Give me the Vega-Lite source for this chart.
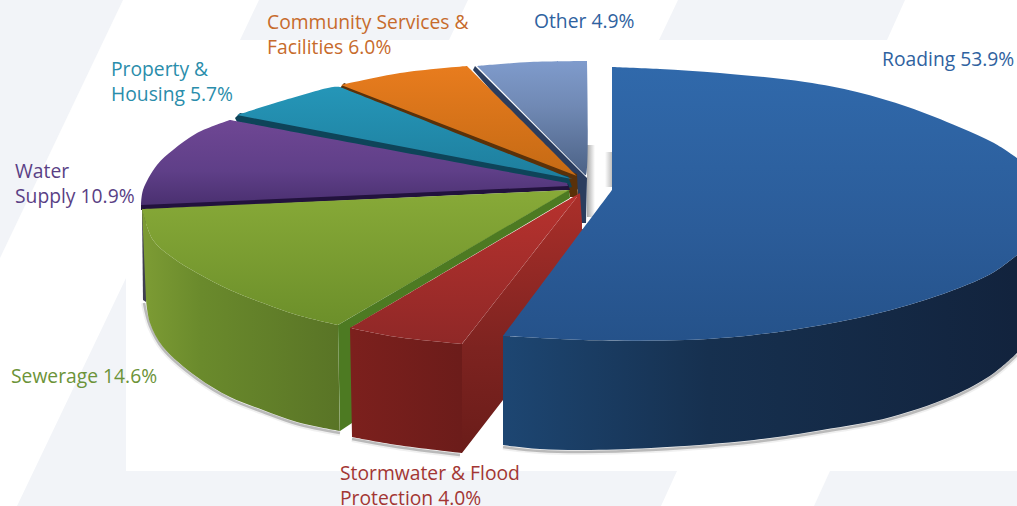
{"$schema":"https://vega.github.io/schema/vega-lite/v6.json","autosize":{"type":"none"},"padding":0,"width":1017,"height":506,"background":"#ffffff","view":{"stroke":null},
"datasets":{
"backdrop":[{"s":"a","i":0,"x":-580,"y":185},{"s":"a","i":1,"x":-457,"y":185},{"s":"a","i":2,"x":-580,"y":-73},
{"s":"b","i":0,"x":-454,"y":-93},{"s":"b","i":1,"x":-454,"y":-286},{"s":"b","i":2,"x":97,"y":-286},{"s":"b","i":3,"x":81,"y":-321},{"s":"b","i":4,"x":-563,"y":-321},
{"s":"c","i":0,"x":250,"y":-286},{"s":"c","i":1,"x":437,"y":-286},{"s":"c","i":2,"x":437,"y":-321},{"s":"c","i":3,"x":234,"y":-321},
{"s":"d","i":0,"x":-340,"y":145},{"s":"d","i":1,"x":-321,"y":185},{"s":"d","i":2,"x":-112,"y":185},{"s":"d","i":3,"x":-131,"y":145},
{"s":"e","i":0,"x":79,"y":145},{"s":"e","i":1,"x":98,"y":185},{"s":"e","i":2,"x":325,"y":185},{"s":"e","i":3,"x":307,"y":145}],
"groundShadow":[{"s":"road","i":0,"x":-77,"y":-262},{"s":"road","i":1,"x":-40,"y":-266},{"s":"road","i":2,"x":3,"y":-267},{"s":"road","i":3,"x":71,"y":-265},{"s":"road","i":4,"x":174,"y":-257},{"s":"road","i":5,"x":242,"y":-247},{"s":"road","i":6,"x":311,"y":-234},{"s":"road","i":7,"x":379,"y":-210},{"s":"road","i":8,"x":414,"y":-190},{"s":"road","i":9,"x":437,"y":-170},
{"s":"storm","i":0,"x":-228,"y":-254},{"s":"storm","i":1,"x":-183,"y":-262},{"s":"storm","i":2,"x":-120,"y":-270},
{"s":"sew","i":0,"x":-436,"y":-118},{"s":"sew","i":1,"x":-430,"y":-141},{"s":"sew","i":2,"x":-417,"y":-164},{"s":"sew","i":3,"x":-383,"y":-194},{"s":"sew","i":4,"x":-350,"y":-214},{"s":"sew","i":5,"x":-317,"y":-227},{"s":"sew","i":6,"x":-283,"y":-239},{"s":"sew","i":7,"x":-240,"y":-248}],
"hubShadowLeft":[{"i":0,"x":7,"y":40},{"i":1,"x":15,"y":40},{"i":2,"x":15,"y":-32},{"i":3,"x":7,"y":-32}],
"hubShadowRight":[{"i":0,"x":25,"y":33},{"i":1,"x":33,"y":33},{"i":2,"x":33,"y":-2},{"i":3,"x":25,"y":-2}],
"otherEdge":[{"i":0,"x":-105,"y":119},{"i":1,"x":7,"y":7},{"i":2,"x":6,"y":-38},{"i":3,"x":-2,"y":-38},{"i":4,"x":-2,"y":-5},{"i":5,"x":-107,"y":115}],
"otherTop":[{"i":0,"x":-103,"y":119},{"i":0.5,"x":-103,"y":119},{"i":1,"x":-50,"y":123},{"i":2,"x":7,"y":124},{"i":2.5,"x":7,"y":124},{"i":3,"x":6,"y":10},{"i":4,"x":5,"y":10}],
"communityEdge":[{"i":0,"x":-236,"y":102},{"i":1,"x":-3,"y":11},{"i":2,"x":-2,"y":-12},{"i":3,"x":-10,"y":-12},{"i":4,"x":-12,"y":-2},{"i":5,"x":-240,"y":97}],
"communityTop":[{"i":0,"x":-239,"y":100},{"i":0.5,"x":-239,"y":100},{"i":1,"x":-180,"y":112},{"i":2,"x":-113,"y":119},{"i":2.5,"x":-113,"y":119},{"i":3,"x":-107,"y":113},{"i":3.5,"x":-107,"y":113},{"i":4,"x":-3,"y":9}],
"propertyEdge":[{"i":0,"x":-340,"y":72},{"i":1,"x":-12,"y":9},{"i":2,"x":-8,"y":-2},{"i":3,"x":-12,"y":-3},{"i":4,"x":-343,"y":63},{"i":5,"x":-345,"y":67}],
"propertyTop":[{"i":0,"x":-343,"y":70},{"i":0.5,"x":-343,"y":70},{"i":1,"x":-295,"y":85},{"i":2,"x":-247,"y":98},{"i":3,"x":-240,"y":98},{"i":3.5,"x":-240,"y":98},{"i":4,"x":-8,"y":6}],
"waterBack":[{"i":0,"x":-438,"y":-25},{"i":1,"x":-434,"y":-25},{"i":2,"x":-434,"y":-117},{"i":3,"x":-437,"y":-115}],
"waterEdge":[{"i":0,"x":-439,"y":-18},{"i":1,"x":-12,"y":1},{"i":2,"x":-10,"y":-5},{"i":3,"x":-439,"y":-25}],
"waterTop":[{"i":0,"x":-439,"y":-20},{"i":0.5,"x":-439,"y":-20},{"i":1,"x":-437,"y":-5},{"i":2,"x":-423,"y":20},{"i":3,"x":-407,"y":35},{"i":4,"x":-383,"y":52},{"i":5,"x":-350,"y":65},{"i":5.5,"x":-350,"y":65},{"i":6,"x":-13,"y":2},{"i":6.5,"x":-13,"y":2},{"i":7,"x":-12,"y":-1}],
"sewerageSide":[{"i":0,"x":-438,"y":-23},{"i":0.5,"x":-438,"y":-23},{"i":1,"x":-427,"y":-55},{"i":2,"x":-407,"y":-73},{"i":3,"x":-383,"y":-88},{"i":4,"x":-350,"y":-105},{"i":5,"x":-317,"y":-118},{"i":6,"x":-283,"y":-130},{"i":7,"x":-242,"y":-140},{"i":7.5,"x":-242,"y":-140},{"i":8,"x":-240,"y":-246},{"i":8.5,"x":-240,"y":-246},{"i":9,"x":-283,"y":-237},{"i":10,"x":-317,"y":-225},{"i":11,"x":-350,"y":-212},{"i":12,"x":-383,"y":-192},{"i":13,"x":-417,"y":-162},{"i":14,"x":-430,"y":-138},{"i":15,"x":-434,"y":-115},{"i":15.5,"x":-434,"y":-115}],
"sewerageTop":[{"i":0,"x":-438,"y":-24},{"i":0.5,"x":-438,"y":-24},{"i":1,"x":-10,"y":-5},{"i":1.5,"x":-10,"y":-5},{"i":2,"x":-242,"y":-140},{"i":2.5,"x":-242,"y":-140},{"i":3,"x":-283,"y":-130},{"i":4,"x":-317,"y":-118},{"i":5,"x":-350,"y":-105},{"i":6,"x":-383,"y":-88},{"i":7,"x":-407,"y":-73},{"i":8,"x":-427,"y":-55},{"i":9,"x":-438,"y":-24}],
"sewerageCut":[{"i":0,"x":-242,"y":-140},{"i":1,"x":-11,"y":-5},{"i":2,"x":-10,"y":-13},{"i":3,"x":-228,"y":-142},{"i":4,"x":-228,"y":-238},{"i":5,"x":-240,"y":-246}],
"stormCut":[{"i":0,"x":-118,"y":-159},{"i":1,"x":0,"y":-8},{"i":2,"x":2,"y":-38},{"i":3,"x":2,"y":-44},{"i":4,"x":8,"y":-46},{"i":5,"x":-70,"y":-150},{"i":6,"x":-70,"y":-205},{"i":7,"x":-77,"y":-215},{"i":8,"x":-118,"y":-268}],
"stormSide":[{"i":0,"x":-230,"y":-143},{"i":1,"x":-183,"y":-152},{"i":2,"x":-118,"y":-159},{"i":2.5,"x":-118,"y":-159},{"i":3,"x":-118,"y":-268},{"i":3.5,"x":-118,"y":-268},{"i":4,"x":-183,"y":-260},{"i":5,"x":-228,"y":-252}],
"stormTop":[{"i":0,"x":-230,"y":-143},{"i":0.5,"x":-230,"y":-143},{"i":1,"x":0,"y":-8},{"i":1.5,"x":0,"y":-8},{"i":2,"x":-118,"y":-159},{"i":2.5,"x":-118,"y":-159},{"i":3,"x":-183,"y":-152},{"i":4,"x":-230,"y":-143}],
"roadingSide":[{"i":0,"x":-77,"y":-151},{"i":1,"x":-40,"y":-153},{"i":2,"x":3,"y":-155},{"i":3,"x":105,"y":-155},{"i":4,"x":174,"y":-150},{"i":5,"x":242,"y":-140},{"i":6,"x":311,"y":-125},{"i":7,"x":379,"y":-103},{"i":8,"x":414,"y":-87},{"i":9,"x":437,"y":-70},{"i":9.5,"x":437,"y":-70},{"i":10,"x":437,"y":-168},{"i":10.5,"x":437,"y":-168},{"i":11,"x":414,"y":-188},{"i":12,"x":379,"y":-208},{"i":13,"x":311,"y":-232},{"i":14,"x":242,"y":-245},{"i":15,"x":174,"y":-255},{"i":16,"x":71,"y":-263},{"i":17,"x":3,"y":-265},{"i":18,"x":-40,"y":-264},{"i":19,"x":-77,"y":-260}],
"roadingRim":[{"i":0,"x":32,"y":40},{"i":1,"x":34,"y":40},{"i":2,"x":35,"y":-5},{"i":3,"x":32,"y":-5}],
"roadingTop":[{"i":0,"x":32,"y":118},{"i":0.5,"x":32,"y":118},{"i":1,"x":80,"y":116},{"i":2,"x":140,"y":112},{"i":3,"x":225,"y":103},{"i":4,"x":277,"y":93},{"i":5,"x":328,"y":78},{"i":6,"x":379,"y":58},{"i":7,"x":414,"y":42},{"i":8,"x":437,"y":27},{"i":8.5,"x":437,"y":27},{"i":9,"x":437,"y":-70},{"i":9.5,"x":437,"y":-70},{"i":10,"x":414,"y":-87},{"i":11,"x":379,"y":-103},{"i":12,"x":311,"y":-125},{"i":13,"x":242,"y":-140},{"i":14,"x":174,"y":-150},{"i":15,"x":105,"y":-155},{"i":16,"x":3,"y":-155},{"i":17,"x":-40,"y":-153},{"i":18,"x":-77,"y":-151},{"i":18.5,"x":-77,"y":-151},{"i":19,"x":32,"y":-5},{"i":19.5,"x":32,"y":-5},{"i":20,"x":32,"y":118}],
"labels":[{"slice":"Roading","share":53.9,"text":"Roading 53.9%","x":302,"y":119},{"slice":"Other","share":4.9,"text":"Other 4.9%","x":-46,"y":157},{"slice":"Community","share":6.0,"text":"Community Services &\nFacilities 6.0%","x":-313,"y":156},{"slice":"Property","share":5.7,"text":"Property &\nHousing 5.7%","x":-469,"y":109},{"slice":"Water","share":10.9,"text":"Water\nSupply 10.9%","x":-565,"y":7},{"slice":"Sewerage","share":14.6,"text":"Sewerage 14.6%","x":-569,"y":-198},{"slice":"Stormwater","share":4.0,"text":"Stormwater & Flood\nProtection 4.0%","x":-240,"y":-295}]
},
"encoding":{"x":{"field":"x","type":"quantitative","axis":null,"scale":{"domain":[-580,437],"nice":false,"zero":false}},"y":{"field":"y","type":"quantitative","axis":null,"scale":{"domain":[-321,185],"nice":false,"zero":false}},"order":{"field":"i","type":"quantitative"}},
"layer":[
{"data":{"name":"backdrop"},"mark":{"type":"line","filled":true,"color":"#f2f4f8","strokeWidth":0},"encoding":{"detail":{"field":"s"}}},
{"data":{"name":"groundShadow"},"mark":{"type":"line","interpolate":"catmull-rom","stroke":"#6a6a6a","strokeWidth":6,"opacity":0.1},"encoding":{"detail":{"field":"s"}}},
{"data":{"name":"groundShadow"},"mark":{"type":"line","interpolate":"catmull-rom","stroke":"#555555","strokeWidth":2.5,"opacity":0.35},"encoding":{"detail":{"field":"s"}}},
{"data":{"name":"hubShadowLeft"},"mark":{"type":"line","filled":true,"strokeWidth":0,"color":{"gradient":"linear","x1":0,"y1":0,"x2":1,"y2":0,"stops":[{"offset":0,"color":"#a9a9a9"},{"offset":1,"color":"#ffffff"}]}}},
{"data":{"name":"hubShadowRight"},"mark":{"type":"line","filled":true,"strokeWidth":0,"color":{"gradient":"linear","x1":0,"y1":0,"x2":1,"y2":0,"stops":[{"offset":0,"color":"#ffffff"},{"offset":1,"color":"#b5b5b5"}]}}},
{"data":{"name":"otherEdge"},"mark":{"type":"line","filled":true,"strokeWidth":0,"color":"#2b3d5e"}},
{"data":{"name":"otherTop"},"mark":{"type":"line","interpolate":"catmull-rom","filled":true,"strokeWidth":0,"color":{"gradient":"linear","x1":0,"y1":0,"x2":0,"y2":1,"stops":[{"offset":0,"color":"#7f9bcc"},{"offset":0.4,"color":"#7089b4"},{"offset":1,"color":"#4c6286"}]}}},
{"data":{"name":"communityEdge"},"mark":{"type":"line","filled":true,"strokeWidth":0,"color":"#5a3109"}},
{"data":{"name":"communityTop"},"mark":{"type":"line","interpolate":"catmull-rom","filled":true,"strokeWidth":0,"color":{"gradient":"linear","x1":0,"y1":0,"x2":0,"y2":1,"stops":[{"offset":0,"color":"#e87c1e"},{"offset":1,"color":"#c56a14"}]}}},
{"data":{"name":"propertyEdge"},"mark":{"type":"line","filled":true,"strokeWidth":0,"color":"#0e4459"}},
{"data":{"name":"propertyTop"},"mark":{"type":"line","interpolate":"catmull-rom","filled":true,"strokeWidth":0,"color":{"gradient":"linear","x1":0,"y1":0,"x2":0,"y2":1,"stops":[{"offset":0,"color":"#2596b8"},{"offset":1,"color":"#1e7e9d"}]}}},
{"data":{"name":"waterBack"},"mark":{"type":"line","filled":true,"strokeWidth":0,"color":"#3f3f50"}},
{"data":{"name":"waterEdge"},"mark":{"type":"line","filled":true,"strokeWidth":0,"color":"#22123d"}},
{"data":{"name":"waterTop"},"mark":{"type":"line","interpolate":"catmull-rom","filled":true,"strokeWidth":0,"color":{"gradient":"linear","x1":0,"y1":0,"x2":0,"y2":1,"stops":[{"offset":0,"color":"#6f4794"},{"offset":0.6,"color":"#5f3f88"},{"offset":1,"color":"#4a3070"}]}}},
{"data":{"name":"sewerageSide"},"mark":{"type":"line","interpolate":"catmull-rom","filled":true,"strokeWidth":0,"color":{"gradient":"linear","x1":0,"y1":0,"x2":1,"y2":0,"stops":[{"offset":0,"color":"#7d9c34"},{"offset":0.3,"color":"#6a8a2c"},{"offset":1,"color":"#597426"}]}}},
{"data":{"name":"sewerageTop"},"mark":{"type":"line","interpolate":"catmull-rom","filled":true,"strokeWidth":0,"color":{"gradient":"linear","x1":0,"y1":0,"x2":0,"y2":1,"stops":[{"offset":0,"color":"#88aa38"},{"offset":1,"color":"#6c8f2a"}]}}},
{"data":{"name":"sewerageCut"},"mark":{"type":"line","filled":true,"strokeWidth":0,"color":"#4d7a22"}},
{"data":{"name":"stormCut"},"mark":{"type":"line","filled":true,"strokeWidth":0,"color":{"gradient":"linear","x1":0,"y1":0,"x2":0,"y2":1,"stops":[{"offset":0,"color":"#ab2f2a"},{"offset":0.6,"color":"#7d2320"},{"offset":1,"color":"#6a1c19"}]}}},
{"data":{"name":"stormSide"},"mark":{"type":"line","interpolate":"catmull-rom","filled":true,"strokeWidth":0,"color":{"gradient":"linear","x1":0,"y1":0,"x2":1,"y2":0,"stops":[{"offset":0,"color":"#7c201d"},{"offset":1,"color":"#6c1c1a"}]}}},
{"data":{"name":"stormTop"},"mark":{"type":"line","interpolate":"catmull-rom","filled":true,"strokeWidth":0,"color":{"gradient":"linear","x1":0,"y1":0,"x2":0,"y2":1,"stops":[{"offset":0,"color":"#b8322e"},{"offset":1,"color":"#8f2827"}]}}},
{"data":{"name":"roadingSide"},"mark":{"type":"line","interpolate":"catmull-rom","filled":true,"strokeWidth":0,"color":{"gradient":"linear","x1":0,"y1":0,"x2":1,"y2":0,"stops":[{"offset":0,"color":"#1d4672"},{"offset":0.4,"color":"#16304f"},{"offset":1,"color":"#12233d"}]}}},
{"data":{"name":"roadingRim"},"mark":{"type":"line","filled":true,"strokeWidth":0,"color":"#1f3f6b"}},
{"data":{"name":"roadingTop"},"mark":{"type":"line","interpolate":"catmull-rom","filled":true,"strokeWidth":0,"color":{"gradient":"linear","x1":0,"y1":0,"x2":0,"y2":1,"stops":[{"offset":0,"color":"#3069ab"},{"offset":0.6,"color":"#2b5c99"},{"offset":1,"color":"#25528a"}]}}},
{"data":{"name":"labels"},"mark":{"type":"text","align":"left","baseline":"alphabetic","font":"Open Sans","fontSize":19.3,"lineBreak":"\n","lineHeight":25},"encoding":{"text":{"field":"text"},"color":{"field":"slice","type":"nominal","legend":null,"scale":{"domain":["Roading","Other","Community","Property","Water","Sewerage","Stormwater"],"range":["#2f62a0","#2f62a0","#c76b2c","#2a8dab","#5a3f85","#6c9338","#a33633"]}}}}
]}
